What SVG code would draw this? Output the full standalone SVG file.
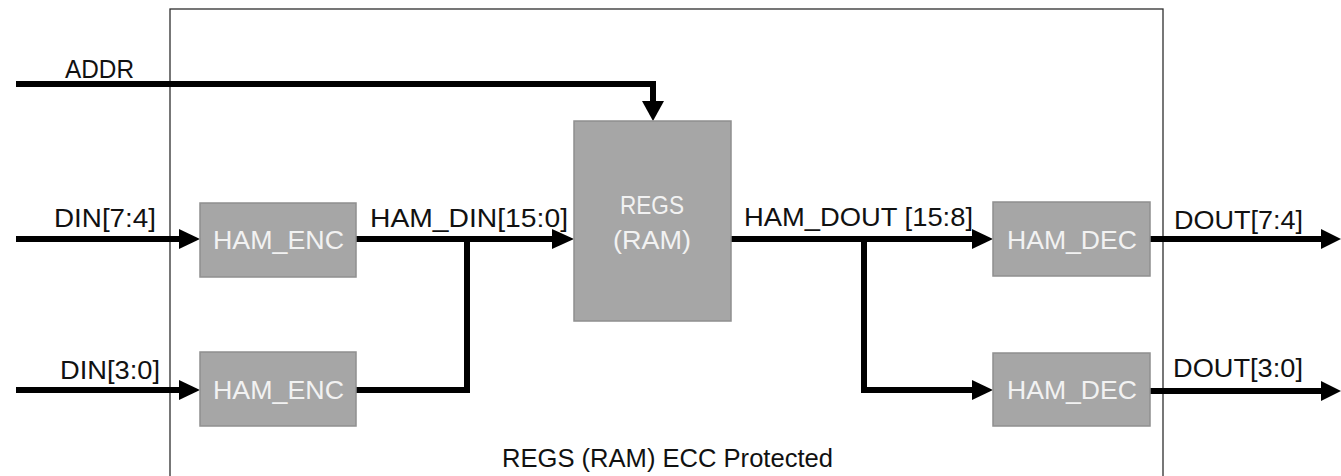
<svg xmlns="http://www.w3.org/2000/svg" width="1341" height="476" viewBox="0 0 1341 476">
<style>
  .blk { fill: #a6a6a6; stroke: #8f8f8f; stroke-width: 1.5; }
  .in { font-family: "Liberation Sans", Arial, sans-serif; font-size: 25px; fill: #f2f2f2; }
  .lbl { font-family: "Liberation Sans", Arial, sans-serif; font-size: 25px; fill: #111111; }
  .wire { fill: none; stroke: #000000; stroke-width: 6; stroke-linejoin: miter; }
  .ah { fill: #000000; }
</style>
<rect width="1341" height="476" fill="#ffffff"/>
<g id="boundary">
  <rect x="170" y="9" width="993" height="490" fill="none" stroke="#2e2e2e" stroke-width="1.3"/>
  <text class="lbl" x="502" y="467" textLength="331" lengthAdjust="spacingAndGlyphs">REGS (RAM) ECC Protected</text>
</g>
<g id="connectors">
  <path class="wire" d="M16,84 H653 V103"/>
  <polygon class="ah" points="642,101 664,101 653,121"/>
  <path class="wire" d="M16,239 H181"/>
  <polygon class="ah" points="179,229 179,249 200,239"/>
  <path class="wire" d="M16,390 H181"/>
  <polygon class="ah" points="179,380 179,400 200,390"/>
  <path class="wire" d="M356,239 H555"/>
  <polygon class="ah" points="552,229 552,249 574,239"/>
  <path class="wire" d="M356,390 H467 V239"/>
  <path class="wire" d="M731,239 H974"/>
  <polygon class="ah" points="972,229 972,249 993,239"/>
  <path class="wire" d="M864,239 V390 H974"/>
  <polygon class="ah" points="972,380 972,400 993,390"/>
  <path class="wire" d="M1150,239 H1323"/>
  <polygon class="ah" points="1321,229 1321,249 1341,239"/>
  <path class="wire" d="M1150,391 H1323"/>
  <polygon class="ah" points="1321,381 1321,401 1341,391"/>
  <text class="lbl" x="65" y="78" textLength="69" lengthAdjust="spacingAndGlyphs">ADDR</text>
  <text class="lbl" x="54" y="227" textLength="102" lengthAdjust="spacingAndGlyphs">DIN[7:4]</text>
  <text class="lbl" x="60" y="379" textLength="100" lengthAdjust="spacingAndGlyphs">DIN[3:0]</text>
  <text class="lbl" x="370" y="227" textLength="198" lengthAdjust="spacingAndGlyphs">HAM_DIN[15:0]</text>
  <text class="lbl" x="744" y="226" textLength="229" lengthAdjust="spacingAndGlyphs">HAM_DOUT [15:8]</text>
  <text class="lbl" x="1174" y="229" textLength="129" lengthAdjust="spacingAndGlyphs">DOUT[7:4]</text>
  <text class="lbl" x="1173" y="377" textLength="130" lengthAdjust="spacingAndGlyphs">DOUT[3:0]</text>
</g>
<g id="ham_enc_top">
  <rect class="blk" x="200" y="203" width="156" height="74"/>
  <text class="in" x="213" y="249" textLength="131" lengthAdjust="spacingAndGlyphs">HAM_ENC</text>
</g>
<g id="ham_enc_bottom">
  <rect class="blk" x="200" y="352" width="156" height="74"/>
  <text class="in" x="213" y="399" textLength="131" lengthAdjust="spacingAndGlyphs">HAM_ENC</text>
</g>
<g id="regs">
  <rect class="blk" x="574" y="121" width="157" height="200"/>
  <text class="in" x="620" y="214" textLength="64" lengthAdjust="spacingAndGlyphs">REGS</text>
  <text class="in" x="613" y="249" textLength="78" lengthAdjust="spacingAndGlyphs">(RAM)</text>
</g>
<g id="ham_dec_top">
  <rect class="blk" x="993" y="202" width="157" height="74"/>
  <text class="in" x="1007" y="249" textLength="130" lengthAdjust="spacingAndGlyphs">HAM_DEC</text>
</g>
<g id="ham_dec_bottom">
  <rect class="blk" x="993" y="353" width="157" height="73"/>
  <text class="in" x="1007" y="399" textLength="130" lengthAdjust="spacingAndGlyphs">HAM_DEC</text>
</g>
</svg>
